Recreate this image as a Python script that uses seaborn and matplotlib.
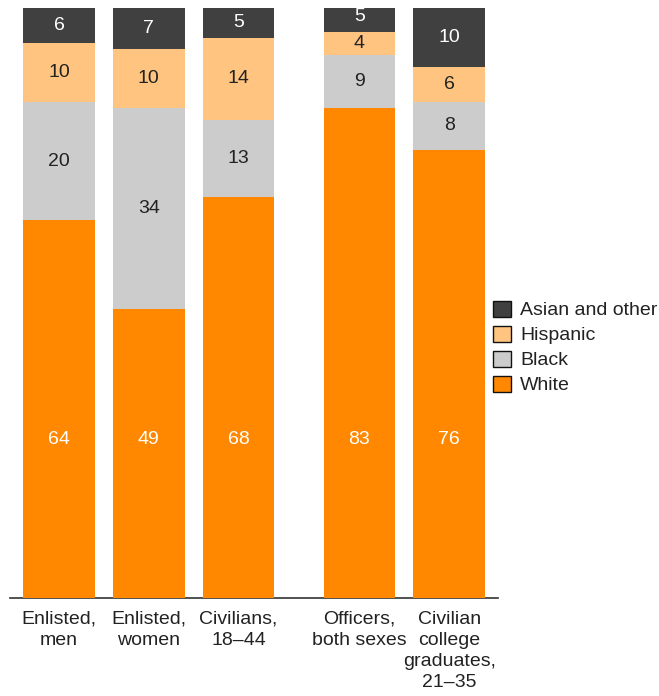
import matplotlib
matplotlib.use("Agg")
import matplotlib.pyplot as plt
import seaborn as sns
import pandas as pd
from matplotlib.patches import Patch

# ---- data ----
categories = ["Enlisted,\nmen", "Enlisted,\nwomen", "Civilians,\n18–44",
              "Officers,\nboth sexes", "Civilian\ncollege\ngraduates,\n21–35"]
positions = [0, 1, 2, 3.35, 4.35]
white = [64, 49, 68, 83, 76]
black = [20, 34, 13, 9, 8]
hispanic = [10, 10, 14, 4, 6]
asian = [6, 7, 5, 5, 10]

series_names = ["White", "Black", "Hispanic", "Asian and other"]
series_vals = [white, black, hispanic, asian]
colors = {"White": "#FF8800", "Black": "#CCCCCC", "Hispanic": "#FFC47F",
          "Asian and other": "#404040"}
text_colors = {"White": "white", "Black": "#222222", "Hispanic": "#222222",
               "Asian and other": "white"}
WHITE_LABEL_Y = 26.8  # white-segment labels sit at a common height

FS = 14

sns.set_theme(style="white")
plt.rcParams["font.family"] = ["Liberation Sans", "DejaVu Sans"]

df = pd.DataFrame({"pos": positions})
cum = [0] * len(positions)
bottoms = {}
for name, vals in zip(series_names, series_vals):
    bottoms[name] = list(cum)
    cum = [c + v for c, v in zip(cum, vals)]
    df["cum_" + name] = cum

fig = plt.figure(figsize=(6.59, 6.96), dpi=100)
ax = fig.add_axes([10 / 659, (696 - 598) / 696, 488 / 659, 590 / 696])

# draw cumulative totals from top series down so they stack visually
for name in reversed(series_names):
    sns.barplot(data=df, x="pos", y="cum_" + name, native_scale=True,
                color=colors[name], saturation=1, errorbar=None,
                width=0.8, linewidth=0, ax=ax)

# segment labels
for name, vals in zip(series_names, series_vals):
    for p, b, v in zip(positions, bottoms[name], vals):
        y = WHITE_LABEL_Y if name == "White" else b + v / 2
        ax.text(p, y, str(v), ha="center", va="center",
                fontsize=FS, color=text_colors[name])

ax.set_xlim(-0.546, 4.894)
ax.set_ylim(0, 100)
ax.set_xticks(positions)
ax.set_xticklabels(categories, fontsize=FS, color="#222222", linespacing=1.33,
                   va="top")
ax.tick_params(axis="x", length=0, pad=9)
ax.set_yticks([])
ax.set_xlabel("")
ax.set_ylabel("")
for s in ["top", "left", "right"]:
    ax.spines[s].set_visible(False)
ax.spines["bottom"].set_color("#333333")
ax.spines["bottom"].set_linewidth(1.2)
ax.spines["bottom"].set_zorder(0)

handles = [Patch(facecolor=colors[n], edgecolor="#111111", linewidth=1.0, label=n)
           for n in ["Asian and other", "Hispanic", "Black", "White"]]
fig.legend(handles=handles, loc="upper left", bbox_to_anchor=(0.748, 0.568),
           frameon=False, borderaxespad=0, borderpad=0, fontsize=FS,
           handlelength=0.95, handleheight=0.9, handletextpad=0.45,
           labelspacing=0.32, labelcolor="#222222")

fig.savefig("out.png", dpi=100)
